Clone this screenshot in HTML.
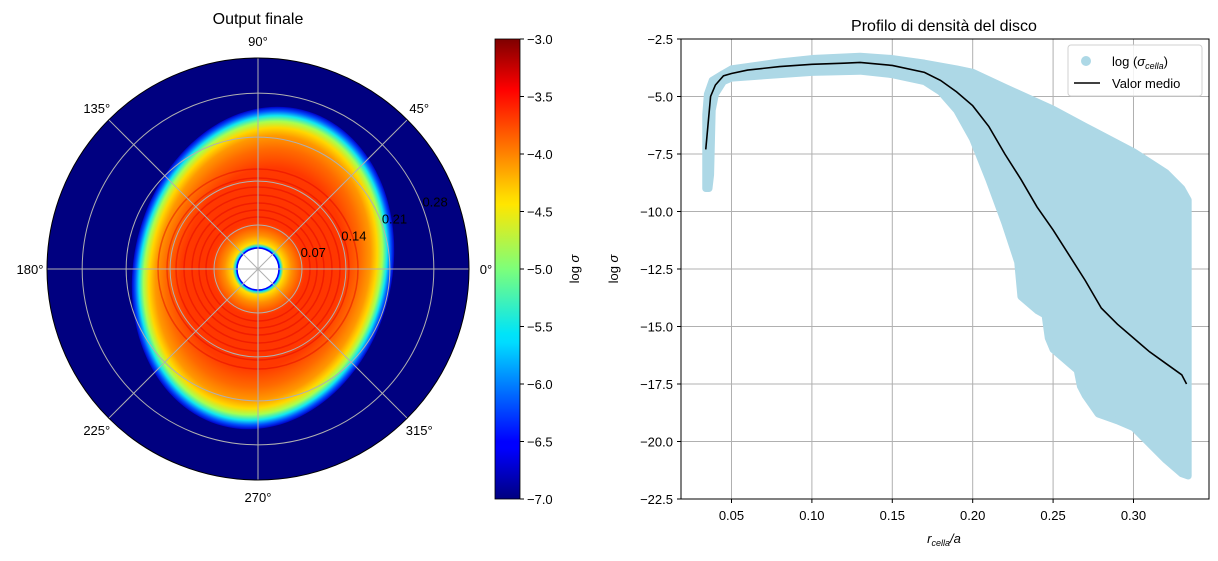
<!DOCTYPE html>
<html><head><meta charset="utf-8"><style>
body{margin:0;background:#fff;}
svg{font-family:"Liberation Sans","DejaVu Sans",sans-serif;}
</style></head><body>
<svg id="s" width="1218" height="556" xmlns="http://www.w3.org/2000/svg">
<defs>
<radialGradient id="disk" cx="0.5" cy="0.5" r="0.5">
<stop offset="0" stop-color="#ff3000"/><stop offset="0.62" stop-color="#ff3800"/>
<stop offset="0.74" stop-color="#ff6a00"/><stop offset="0.82" stop-color="#ff9800"/>
<stop offset="0.87" stop-color="#ffd800"/><stop offset="0.91" stop-color="#a8ff50"/>
<stop offset="0.945" stop-color="#10e8f0"/><stop offset="0.975" stop-color="#0050ff"/>
<stop offset="1" stop-color="#0000c8"/></radialGradient>
<radialGradient id="inner" gradientUnits="userSpaceOnUse" cx="258" cy="269" r="48">
<stop offset="0.42" stop-color="#0000ff"/><stop offset="0.47" stop-color="#00e0ff"/>
<stop offset="0.53" stop-color="#ffe000"/><stop offset="0.7" stop-color="#ff9000"/>
<stop offset="0.9" stop-color="#ff5000"/><stop offset="1" stop-color="#ff3800" stop-opacity="0"/></radialGradient>
<linearGradient id="jet" x1="0" y1="1" x2="0" y2="0">
<stop offset="0" stop-color="#00007f"/><stop offset="0.11" stop-color="#0000ff"/>
<stop offset="0.125" stop-color="#0000ff"/><stop offset="0.34" stop-color="#00dcff"/>
<stop offset="0.36" stop-color="#00e4f8"/><stop offset="0.5" stop-color="#7dff7a"/>
<stop offset="0.64" stop-color="#ffe600"/><stop offset="0.66" stop-color="#ffd800"/>
<stop offset="0.89" stop-color="#ff0000"/><stop offset="1" stop-color="#7f0000"/></linearGradient>
<clipPath id="pc"><circle cx="258" cy="269" r="211"/></clipPath>
</defs>
<text x="258" y="24" font-size="16" text-anchor="middle">Output finale</text>
<g clip-path="url(#pc)">
<circle cx="258" cy="269" r="211" fill="#000080"/>
<ellipse cx="263" cy="268" rx="129" ry="163" transform="rotate(14 263 268)" fill="url(#disk)"/>
<circle cx="258" cy="269" r="48" fill="url(#inner)"/>
<g fill="none" stroke="#e00000" stroke-opacity="0.45" stroke-width="1.5">
<circle cx="258" cy="269" r="52"/><circle cx="258" cy="269" r="59"/><circle cx="258" cy="269" r="66"/>
<circle cx="258" cy="269" r="74"/><circle cx="258" cy="269" r="82"/><circle cx="258" cy="269" r="91"/><circle cx="258" cy="269" r="100"/></g>
<circle cx="258" cy="269" r="21" fill="#fff" stroke="#0000ff" stroke-width="1.5"/>
</g>
<g id="pgrid" stroke="#b0b0b0" stroke-width="1" fill="none"></g>
<circle cx="258" cy="269" r="211" fill="none" stroke="#000" stroke-width="1"/>
<g id="plabels" font-size="13"></g>
<rect x="495" y="39" width="25" height="460" fill="url(#jet)" stroke="#000" stroke-width="0.8"/>
<g id="cb" font-size="13"></g>
<text transform="translate(579 269) rotate(-90)" font-size="13" text-anchor="middle">log <tspan font-style="italic">σ</tspan></text>
<text x="944" y="31" font-size="16" text-anchor="middle">Profilo di densità del disco</text>
<g id="rgrid"></g>
<polygon id="band" fill="#add8e6" stroke="#add8e6" stroke-width="7" stroke-linejoin="round"/>
<polyline id="mean" fill="none" stroke="#000" stroke-width="1.6"/>
<rect x="681" y="39" width="528" height="460" fill="none" stroke="#000" stroke-width="1"/>
<g id="rticks" font-size="13"></g>
<text x="944" y="543" font-size="13" text-anchor="middle"><tspan font-style="italic">r</tspan><tspan font-size="9" font-style="italic" dy="3">cella</tspan><tspan dy="-3" font-style="italic">/a</tspan></text>
<text transform="translate(618 269) rotate(-90)" font-size="13" text-anchor="middle">log <tspan font-style="italic">σ</tspan></text>
<g>
<rect x="1068" y="45" width="134" height="51" rx="3" fill="#fff" fill-opacity="0.85" stroke="#d0d0d0"/>
<circle cx="1086" cy="61" r="5" fill="#add8e6"/>
<text x="1112" y="66" font-size="13">log (<tspan font-style="italic">σ</tspan><tspan font-size="9" font-style="italic" dy="3">cella</tspan><tspan dy="-3">)</tspan></text>
<line x1="1074" y1="83" x2="1100" y2="83" stroke="#000" stroke-width="1.6"/>
<text x="1112" y="88" font-size="13">Valor medio</text>
</g>
</svg>
<script>
const NS="http://www.w3.org/2000/svg";
const xTicks=[0.05,0.10,0.15,0.20,0.25,0.30];
const yTicks=[-2.5,-5,-7.5,-10,-12.5,-15,-17.5,-20,-22.5];
const meanR=[0.034,0.037,0.04,0.045,0.05,0.06,0.08,0.10,0.12,0.13,0.15,0.17,0.18,0.19,0.20,0.21,0.22,0.23,0.24,0.25,0.26,0.27,0.28,0.29,0.30,0.31,0.32,0.33,0.333];
const meanV=[-7.3,-5.0,-4.5,-4.1,-4.0,-3.85,-3.7,-3.6,-3.55,-3.52,-3.65,-3.95,-4.3,-4.8,-5.4,-6.3,-7.5,-8.6,-9.8,-10.8,-11.9,-13.0,-14.2,-14.9,-15.5,-16.1,-16.6,-17.1,-17.5];
const upR=[0.034,0.035,0.038,0.045,0.05,0.08,0.10,0.13,0.15,0.17,0.19,0.20,0.22,0.25,0.27,0.30,0.32,0.33,0.334];
const upV=[-5.8,-4.9,-4.3,-4.0,-3.8,-3.5,-3.35,-3.25,-3.35,-3.55,-3.8,-3.95,-4.6,-5.55,-6.3,-7.4,-8.3,-9.0,-9.5];
const loR=[0.034,0.036,0.037,0.038,0.04,0.045,0.05,0.08,0.10,0.13,0.15,0.17,0.18,0.19,0.20,0.21,0.22,0.228,0.23,0.24,0.245,0.247,0.25,0.26,0.265,0.267,0.27,0.278,0.29,0.30,0.31,0.32,0.33,0.334];
const loV=[-9.0,-9.0,-8.4,-5.6,-4.9,-4.35,-4.2,-4.05,-3.95,-3.9,-4.05,-4.35,-4.8,-5.6,-6.85,-8.6,-10.5,-12.2,-13.7,-14.3,-14.5,-15.5,-16.0,-16.6,-16.9,-17.6,-18.0,-18.8,-19.1,-19.4,-20.1,-20.8,-21.4,-21.5];
const angTicks=[0,45,90,135,180,225,270,315];
const radTicks=[0.07,0.14,0.21,0.28];
const cbTicks=[-3,-3.5,-4,-4.5,-5,-5.5,-6,-6.5,-7];
const X=v=>681+(v-0.0186)/0.05*80.4, Y=v=>39+(-2.5-v)/20*460;
const s=document.getElementById('s');
function el(t,a,p){const e=document.createElementNS(NS,t);for(const k in a)e.setAttribute(k,a[k]);(p||s).appendChild(e);return e;}
const rg=document.getElementById('rgrid'),rt=document.getElementById('rticks');
xTicks.forEach(t=>{const x=X(t);
const g=el('line',{x1:x,x2:x,y1:39,y2:499,stroke:'#b0b0b0'},rg);


el('line',{x1:x,x2:x,y1:499,y2:503,stroke:'#000'},rt);
const tx=el('text',{x:x,y:520,'text-anchor':'middle'},rt);tx.textContent=t.toFixed(2);

});
yTicks.forEach(t=>{const y=Y(t);
const g=el('line',{x1:681,x2:1209,y1:y,y2:y,stroke:'#b0b0b0'},rg);


el('line',{x1:677,x2:681,y1:y,y2:y,stroke:'#000'},rt);
const tx=el('text',{x:673,y:y+5,'text-anchor':'end'},rt);tx.textContent=(t<0?'−':'')+Math.abs(t).toFixed(1);

});
let pts=upR.map((r,i)=>X(r)+','+Y(upV[i]));
for(let i=loR.length-1;i>=0;i--)pts.push(X(loR[i])+','+Y(loV[i]));
document.getElementById('band').setAttribute('points',pts.join(' '));
document.getElementById('mean').setAttribute('points',meanR.map((r,i)=>X(r)+','+Y(meanV[i])).join(' '));
const cx=258,cy=269,R=211,rmax=0.336;
const pg=document.getElementById('pgrid'),pl=document.getElementById('plabels');
radTicks.forEach(t=>{el('circle',{cx:cx,cy:cy,r:t/rmax*R},pg);});
angTicks.forEach(a=>{const rad=a*Math.PI/180;
el('line',{x1:cx,y1:cy,x2:cx+R*Math.cos(rad),y2:cy-R*Math.sin(rad)},pg);
const lx=cx+(R+17)*Math.cos(rad),ly=cy-(R+17)*Math.sin(rad);
const tx=el('text',{x:lx,y:ly+5,'text-anchor':'middle'},pl);tx.textContent=a+'°';

});
radTicks.forEach(t=>{const r=t/rmax*R,rad=22.5*Math.PI/180;
const tx=el('text',{x:cx+r*Math.cos(rad)+2,y:cy-r*Math.sin(rad)+5,'text-anchor':'start'},pl);tx.textContent=t.toFixed(2);

});
const cb=document.getElementById('cb');
cbTicks.forEach(t=>{const y=39+(-3-t)/4*460;
el('line',{x1:520,x2:524,y1:y,y2:y,stroke:'#000'},cb);
const tx=el('text',{x:527,y:y+5},cb);tx.textContent=(t<0?'−':'')+Math.abs(t).toFixed(1);

});
</script>
</body></html>
